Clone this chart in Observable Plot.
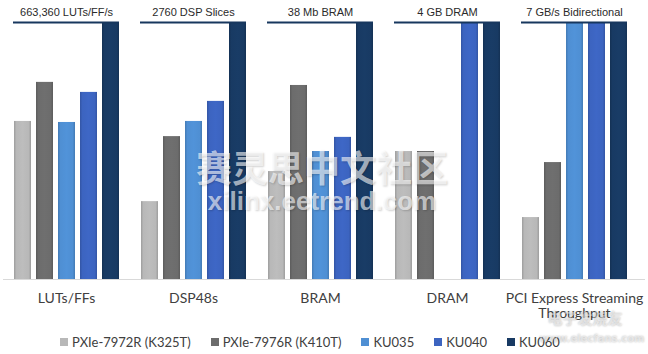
<!DOCTYPE html>
<html><head><meta charset="utf-8">
<script src="https://cdn.jsdelivr.net/npm/d3@7"></script>
<script src="https://cdn.jsdelivr.net/npm/@observablehq/plot@0.6"></script>
<style>
body{margin:0;background:#fff;width:648px;height:354px;overflow:hidden;position:relative;font-family:Lato,sans-serif}
#chart{position:absolute;left:0;top:0}
#legend{position:absolute;left:60px;top:334px;display:flex;gap:20px;font-size:13px;color:#404040;line-height:16px;white-space:nowrap}
.item{display:flex;align-items:center}
.sw{width:8px;height:8px;margin-right:4px;display:inline-block}
.wm{position:absolute;white-space:nowrap;pointer-events:none;transform:translate(-50%,-50%);line-height:1}
</style></head><body>
<div id="chart"></div>
<div id="legend"></div>
<div class="wm" style="left:322px;top:166px;font:bold 36px/1 'Noto Sans CJK SC';color:rgba(255,255,255,0.62);text-shadow:1px 1px 2px rgba(0,0,0,0.18)">赛灵思中文社区</div>
<div class="wm" style="left:322px;top:201px;font:bold 26px/1 'Liberation Sans';color:rgba(255,255,255,0.62);text-shadow:1px 1px 2px rgba(0,0,0,0.18)">xilinx.eetrend.com</div>
<div class="wm" style="left:585px;top:317px;font:bold 15px/1 'Noto Sans CJK SC';color:rgba(255,255,255,0.5);text-shadow:0 0 2px rgba(0,0,0,0.3)">电子发烧友</div>
<div class="wm" style="left:592px;top:339px;font:bold 10px/1 'DejaVu Sans';color:rgba(255,255,255,0.5);text-shadow:0 0 2px rgba(0,0,0,0.3)">www.elecfans.com</div>
<script>
const categories = ["LUTs/FFs", "DSP48s", "BRAM", "DRAM", "PCI Express Streaming\nThroughput"];
const series = ["PXIe-7972R (K325T)", "PXIe-7976R (K410T)", "KU035", "KU040", "KU060"];
const topLabels = ["663,360 LUTs/FF/s", "2760 DSP Slices", "38 Mb BRAM", "4 GB DRAM", "7 GB/s Bidirectional"];
// values relative to the KU060 (= 100), one array per series, in category order
const k325t = [61.5, 30.3, 42.0, 49.8, 24.1];
const k410t = [76.7, 55.6, 75.5, 49.8, 45.5];
const ku035 = [61.1, 61.5, 49.8, null, 100];
const ku040 = [72.8, 69.3, 55.3, 100, 100];
const ku060 = [100, 100, 100, 100, 100];
const colors = ["#b8b8b8", "#6c6c6c", "#4f8fd3", "#3c64c0", "#183a63"];

const seriesValues = [k325t, k410t, ku035, ku040, ku060];
const data = [];
categories.forEach((c, i) => series.forEach((s, j) => {
  if (seriesValues[j][i] != null) data.push({category: c, series: s, value: seriesValues[j][i]});
}));
const maxVal = d3.max(data, d => d.value);
const tops = categories.map((c, i) => ({category: c, label: topLabels[i], max: maxVal}));

const plot = Plot.plot({
  width: 648, height: 322,
  marginTop: 22, marginBottom: 43, marginLeft: 0, marginRight: 7,
  style: {background: "transparent", fontFamily: "Lato, sans-serif"},
  fx: {domain: categories, paddingInner: 0.164, paddingOuter: 0.086, label: null},
  x: {domain: series, paddingInner: 0.245, paddingOuter: 0, axis: null},
  y: {domain: [0, maxVal], axis: null},
  color: {domain: series, range: colors},
  marks: [
    Plot.axisFx({anchor: "bottom", tickSize: 0, tickPadding: 13, fontSize: 14, label: null, fill: "#404040", lineHeight: 1.05}),
    Plot.barY(data, {fx: "category", x: "series", y: "value", fill: "series"}),
    Plot.ruleY(tops, {fx: "category", y: "max", stroke: "#17375e", strokeWidth: 2}),
    Plot.text(tops, {fx: "category", y: "max", text: "label", dy: -10, fontSize: 11, fontFamily: "Liberation Sans, Arial, sans-serif", fill: "#2a2a2a"})
  ]
});
document.getElementById("chart").append(plot);

// soft horizontal shading on the bars, like the original
const svg = d3.select(plot);
const defs = svg.insert("defs", ":first-child");
colors.forEach((c, i) => {
  const g = defs.append("linearGradient").attr("id", "grad" + i).attr("x1", 0).attr("x2", 1).attr("y1", 0).attr("y2", 0);
  const dark = d3.color(c).darker(0.45).formatHex();
  const light = d3.color(c).brighter(0.08).formatHex();
  [[0, dark], [0.14, c], [0.5, light], [0.86, c], [1, dark]].forEach(([o, col]) =>
    g.append("stop").attr("offset", o).attr("stop-color", col));
});
const colorScale = plot.scale("color");
plot.querySelectorAll("g[aria-label='bar'] rect").forEach(r => {
  const f = r.getAttribute("fill");
  const idx = colors.findIndex(c => d3.color(c).formatHex() === d3.color(f).formatHex());
  if (idx >= 0) r.setAttribute("fill", `url(#grad${idx})`);
});
// baseline across the whole plot
const y0 = plot.scale("y").apply(0);
svg.append("line").attr("x1", 3).attr("x2", 645).attr("y1", y0 + 0.5).attr("y2", y0 + 0.5)
  .attr("stroke", "#d9d9d9").attr("stroke-width", 1);

// legend
const legend = d3.select("#legend");
series.forEach((s, i) => {
  const it = legend.append("div").attr("class", "item");
  it.append("span").attr("class", "sw").style("background", colorScale.range[i]);
  it.append("span").text(s);
});
</script>
</body></html>
